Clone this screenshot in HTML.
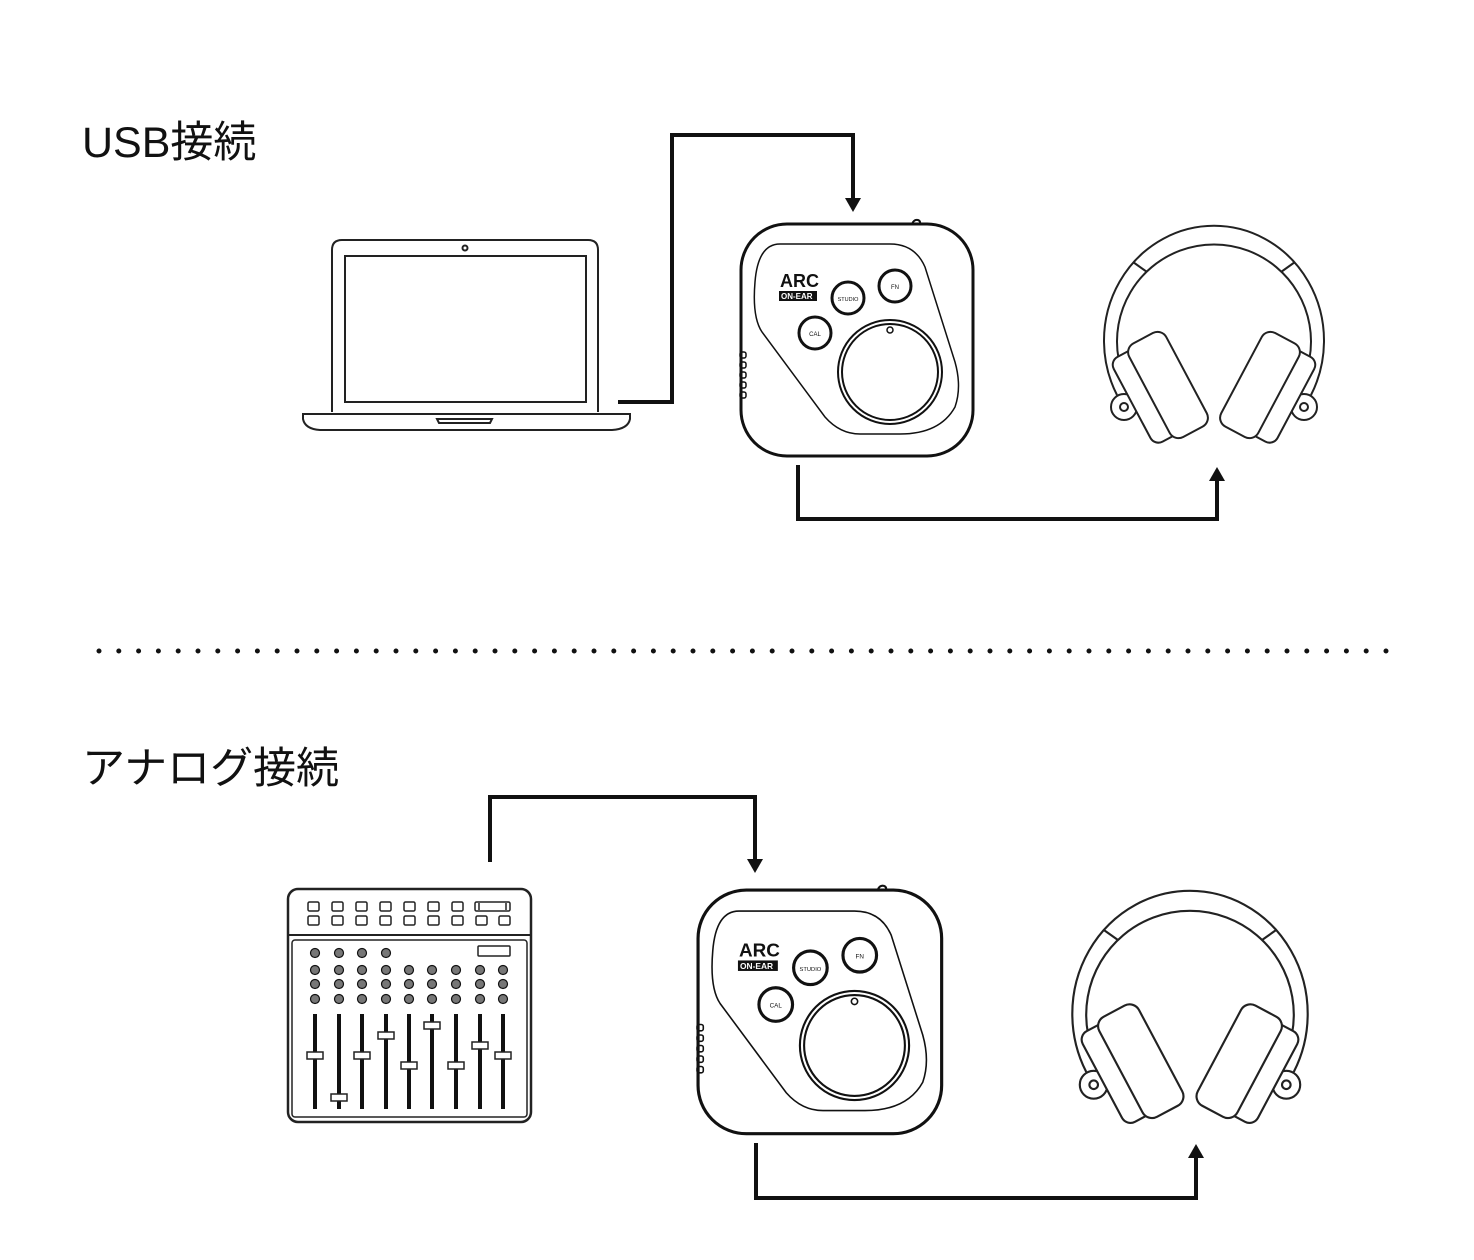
<!DOCTYPE html>
<html><head><meta charset="utf-8"><style>
html,body{margin:0;padding:0;background:#fff;width:1474px;height:1260px;overflow:hidden}
svg{display:block}
text{font-family:"Liberation Sans","Noto Sans CJK JP",sans-serif}
</style></head><body>
<svg width="1474" height="1260" viewBox="0 0 1474 1260" xmlns="http://www.w3.org/2000/svg">
<text x="82" y="157" font-size="43" fill="#111">USB接続</text>
<text x="82" y="783" font-size="43" fill="#111">アナログ接続</text>

<line x1="99" y1="651" x2="1405" y2="651" stroke="#111" stroke-width="5" stroke-linecap="round" stroke-dasharray="0 19.8"/>

<g fill="none" stroke="#111" stroke-width="4">
<polyline points="618,402 672,402 672,135 853,135 853,203"/>
<polyline points="798,465 798,519 1217,519 1217,478"/>
<polyline points="490,862 490,797 755,797 755,863"/>
<polyline points="756,1143 756,1198 1196,1198 1196,1155"/>
</g>
<g fill="#111">
<polygon points="845,198 861,198 853,212"/>
<polygon points="1209,481 1225,481 1217,467"/>
<polygon points="747,859 763,859 755,873"/>
<polygon points="1188,1158 1204,1158 1196,1144"/>
</g>

<!-- laptop -->
<g fill="none" stroke="#222" stroke-width="2">
<path d="M332,412 L332,250 Q332,240 342,240 L588,240 Q598,240 598,250 L598,412"/>
<rect x="345" y="256" width="241" height="146"/>
<circle cx="465" cy="248" r="2.5"/>
<path d="M303,414 L630,414 L630,419 Q628,429 612,430 L320,430 Q305,429 303,419 Z"/>
<path d="M437,419 L492,419 L490,423 L439,423 Z"/>
</g>

<!-- device 1 -->
<g transform="translate(740,222)" fill="none" stroke="#111">
<rect x="1" y="2" width="232" height="232" rx="46" stroke-width="3"/>
<path d="M172,2 Q174,-3 178,-2 Q181,-1 180,3" stroke-width="2"/>
<path d="M40,22 L150,22 Q175,22 185,45 L215,140 Q222,165 215,185 Q200,212 160,212 L120,212 Q100,212 85,195 L22,110 Q12,95 15,60 Q18,22 40,22 Z" stroke-width="1.5"/>
<circle cx="150" cy="150" r="52" stroke-width="2"/>
<circle cx="150" cy="150" r="48" stroke-width="2"/>
<circle cx="150" cy="108" r="3" stroke-width="1.5"/>
<circle cx="75" cy="111" r="16" stroke-width="3"/>
<circle cx="108" cy="76" r="16" stroke-width="3"/>
<circle cx="155" cy="64" r="16" stroke-width="3"/>
<g stroke-width="1.5"><rect x="0" y="130" width="6" height="6" rx="2"/><rect x="0" y="140" width="6" height="6" rx="2"/><rect x="0" y="150" width="6" height="6" rx="2"/><rect x="0" y="160" width="6" height="6" rx="2"/><rect x="0" y="170" width="6" height="6" rx="2"/></g>
<rect x="39" y="69" width="38" height="10" fill="#111" stroke="none"/>
<text x="40" y="65" font-size="18" font-weight="bold" fill="#111" stroke="none">ARC</text>
<text x="41" y="77" font-size="8" font-weight="bold" fill="#fff" stroke="none">ON-EAR</text>
<text x="75" y="114" font-size="6" fill="#111" stroke="none" text-anchor="middle">CAL</text>
<text x="108" y="79" font-size="5.5" fill="#111" stroke="none" text-anchor="middle">STUDIO</text>
<text x="155" y="67" font-size="6" fill="#111" stroke="none" text-anchor="middle">FN</text>
</g>

<!-- device 2 -->
<g transform="translate(697,888) scale(1.05)" fill="none" stroke="#111">
<rect x="1" y="2" width="232" height="232" rx="46" stroke-width="3"/>
<path d="M172,2 Q174,-3 178,-2 Q181,-1 180,3" stroke-width="2"/>
<path d="M40,22 L150,22 Q175,22 185,45 L215,140 Q222,165 215,185 Q200,212 160,212 L120,212 Q100,212 85,195 L22,110 Q12,95 15,60 Q18,22 40,22 Z" stroke-width="1.5"/>
<circle cx="150" cy="150" r="52" stroke-width="2"/>
<circle cx="150" cy="150" r="48" stroke-width="2"/>
<circle cx="150" cy="108" r="3" stroke-width="1.5"/>
<circle cx="75" cy="111" r="16" stroke-width="3"/>
<circle cx="108" cy="76" r="16" stroke-width="3"/>
<circle cx="155" cy="64" r="16" stroke-width="3"/>
<g stroke-width="1.5"><rect x="0" y="130" width="6" height="6" rx="2"/><rect x="0" y="140" width="6" height="6" rx="2"/><rect x="0" y="150" width="6" height="6" rx="2"/><rect x="0" y="160" width="6" height="6" rx="2"/><rect x="0" y="170" width="6" height="6" rx="2"/></g>
<rect x="39" y="69" width="38" height="10" fill="#111" stroke="none"/>
<text x="40" y="65" font-size="18" font-weight="bold" fill="#111" stroke="none">ARC</text>
<text x="41" y="77" font-size="8" font-weight="bold" fill="#fff" stroke="none">ON-EAR</text>
<text x="75" y="114" font-size="6" fill="#111" stroke="none" text-anchor="middle">CAL</text>
<text x="108" y="79" font-size="5.5" fill="#111" stroke="none" text-anchor="middle">STUDIO</text>
<text x="155" y="67" font-size="6" fill="#111" stroke="none" text-anchor="middle">FN</text>
</g>

<!-- headphones 1 -->
<g transform="translate(1214,0)" fill="#fff" stroke="#222" stroke-width="2">
<path d="M-97,395 A110,115 0 1 1 97,395" fill="none"/>
<path d="M-84,390 A97,97 0 1 1 84,390" fill="none"/>
<line x1="-81" y1="262" x2="-67" y2="272"/><line x1="81" y1="262" x2="67" y2="272"/>
<g>
<circle cx="-90" cy="407" r="13"/><circle cx="-90" cy="407" r="4"/>
<rect x="-18" y="-48" width="36" height="96" rx="9" transform="translate(-66,395) rotate(-28)"/>
<rect x="-21" y="-53" width="42" height="106" rx="10" transform="translate(-46,385) rotate(-28)"/>
</g>
<g transform="scale(-1,1)">
<circle cx="-90" cy="407" r="13"/><circle cx="-90" cy="407" r="4"/>
<rect x="-18" y="-48" width="36" height="96" rx="9" transform="translate(-66,395) rotate(-28)"/>
<rect x="-21" y="-53" width="42" height="106" rx="10" transform="translate(-46,385) rotate(-28)"/>
</g>
</g>

<!-- headphones 2 -->
<g transform="translate(1190,890) scale(1.07) translate(0,-225)" fill="#fff" stroke="#222" stroke-width="2">
<path d="M-97,395 A110,115 0 1 1 97,395" fill="none"/>
<path d="M-84,390 A97,97 0 1 1 84,390" fill="none"/>
<line x1="-81" y1="262" x2="-67" y2="272"/><line x1="81" y1="262" x2="67" y2="272"/>
<g>
<circle cx="-90" cy="407" r="13"/><circle cx="-90" cy="407" r="4"/>
<rect x="-18" y="-48" width="36" height="96" rx="9" transform="translate(-66,395) rotate(-28)"/>
<rect x="-21" y="-53" width="42" height="106" rx="10" transform="translate(-46,385) rotate(-28)"/>
</g>
<g transform="scale(-1,1)">
<circle cx="-90" cy="407" r="13"/><circle cx="-90" cy="407" r="4"/>
<rect x="-18" y="-48" width="36" height="96" rx="9" transform="translate(-66,395) rotate(-28)"/>
<rect x="-21" y="-53" width="42" height="106" rx="10" transform="translate(-46,385) rotate(-28)"/>
</g>
</g>

<!-- mixer -->
<g fill="none" stroke="#222" stroke-width="2">
<rect x="288" y="889" width="243" height="233" rx="10" stroke-width="2.5"/>
<line x1="288" y1="935" x2="531" y2="935"/>
<rect x="292" y="940" width="235" height="177" rx="3" stroke-width="1.5"/>
<g stroke-width="1.5">
<rect x="308" y="902" width="11" height="9" rx="1.5"/><rect x="332" y="902" width="11" height="9" rx="1.5"/><rect x="356" y="902" width="11" height="9" rx="1.5"/><rect x="380" y="902" width="11" height="9" rx="1.5"/><rect x="404" y="902" width="11" height="9" rx="1.5"/><rect x="428" y="902" width="11" height="9" rx="1.5"/><rect x="452" y="902" width="11" height="9" rx="1.5"/>
<rect x="475" y="902" width="35" height="9" rx="1.5"/><line x1="479" y1="903" x2="479" y2="910"/><line x1="506" y1="903" x2="506" y2="910"/>
<rect x="308" y="916" width="11" height="9" rx="1.5"/><rect x="332" y="916" width="11" height="9" rx="1.5"/><rect x="356" y="916" width="11" height="9" rx="1.5"/><rect x="380" y="916" width="11" height="9" rx="1.5"/><rect x="404" y="916" width="11" height="9" rx="1.5"/><rect x="428" y="916" width="11" height="9" rx="1.5"/><rect x="452" y="916" width="11" height="9" rx="1.5"/><rect x="476" y="916" width="11" height="9" rx="1.5"/><rect x="499" y="916" width="11" height="9" rx="1.5"/>
<rect x="478" y="946" width="32" height="10" rx="1"/>
</g>
</g>
<g fill="#777" stroke="#111" stroke-width="1.2">
<circle cx="315" cy="953" r="4.5"/><circle cx="339" cy="953" r="4.5"/><circle cx="362" cy="953" r="4.5"/><circle cx="386" cy="953" r="4.5"/>
<circle cx="315" cy="970" r="4.5"/><circle cx="339" cy="970" r="4.5"/><circle cx="362" cy="970" r="4.5"/><circle cx="386" cy="970" r="4.5"/><circle cx="409" cy="970" r="4.5"/><circle cx="432" cy="970" r="4.5"/><circle cx="456" cy="970" r="4.5"/><circle cx="480" cy="970" r="4.5"/><circle cx="503" cy="970" r="4.5"/>
<circle cx="315" cy="984" r="4.5"/><circle cx="339" cy="984" r="4.5"/><circle cx="362" cy="984" r="4.5"/><circle cx="386" cy="984" r="4.5"/><circle cx="409" cy="984" r="4.5"/><circle cx="432" cy="984" r="4.5"/><circle cx="456" cy="984" r="4.5"/><circle cx="480" cy="984" r="4.5"/><circle cx="503" cy="984" r="4.5"/>
<circle cx="315" cy="999" r="4.5"/><circle cx="339" cy="999" r="4.5"/><circle cx="362" cy="999" r="4.5"/><circle cx="386" cy="999" r="4.5"/><circle cx="409" cy="999" r="4.5"/><circle cx="432" cy="999" r="4.5"/><circle cx="456" cy="999" r="4.5"/><circle cx="480" cy="999" r="4.5"/><circle cx="503" cy="999" r="4.5"/>
</g>
<g stroke="#111" stroke-width="4">
<line x1="315" y1="1014" x2="315" y2="1109"/><line x1="339" y1="1014" x2="339" y2="1109"/><line x1="362" y1="1014" x2="362" y2="1109"/><line x1="386" y1="1014" x2="386" y2="1109"/><line x1="409" y1="1014" x2="409" y2="1109"/><line x1="432" y1="1014" x2="432" y2="1109"/><line x1="456" y1="1014" x2="456" y2="1109"/><line x1="480" y1="1014" x2="480" y2="1109"/><line x1="503" y1="1014" x2="503" y2="1109"/>
</g>
<g fill="#fff" stroke="#222" stroke-width="1.5">
<rect x="307" y="1052" width="16" height="7"/><rect x="331" y="1094" width="16" height="7"/><rect x="354" y="1052" width="16" height="7"/><rect x="378" y="1032" width="16" height="7"/><rect x="401" y="1062" width="16" height="7"/><rect x="424" y="1022" width="16" height="7"/><rect x="448" y="1062" width="16" height="7"/><rect x="472" y="1042" width="16" height="7"/><rect x="495" y="1052" width="16" height="7"/>
</g>
</svg>
</body></html>
